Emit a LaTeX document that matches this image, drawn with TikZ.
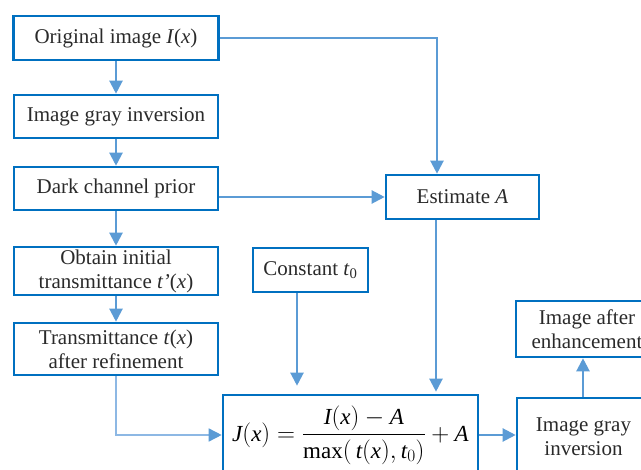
\documentclass[tikz,border=0pt]{standalone}
\usepackage{fontspec}
\usepackage{amsmath}
\setmainfont{Liberation Serif}
\usetikzlibrary{arrows.meta}
\definecolor{boxblue}{HTML}{0070C0}
\definecolor{arrblue}{HTML}{5B9BD5}
\definecolor{lightblue}{HTML}{8DB8E4}
\definecolor{txt}{HTML}{2A2A2A}
\begin{document}
\begin{tikzpicture}[x=1pt,y=-1pt,
  box/.style={draw=boxblue, line width=2.6pt, text=txt, align=center, inner sep=0pt,
    font=\fontsize{21}{24}\selectfont},
  arr/.style={draw=arrblue, line width=2.2pt, -{Triangle[length=13pt,width=13pt,color=arrblue]}},
  thinarr/.style={draw=lightblue, line width=1.5pt, -{Triangle[length=13pt,width=13pt,color=arrblue]}}]
\useasboundingbox (0,0) rectangle (641,470);
\clip (0,0) rectangle (641,470);
% left column
\node[box, minimum width=205pt, minimum height=44pt] (orig) at (116,38) {Original image \textit{I}(\textit{x})};
\node[box, minimum width=204pt, minimum height=43pt] (inv1) at (116,116.5) {Image gray inversion};
\node[box, minimum width=204pt, minimum height=43pt] (dark) at (116,188.5) {Dark channel prior};
\node[box, minimum width=204pt, minimum height=48pt] (obtain) at (116,271) {Obtain initial\\transmittance \textit{t’}(\textit{x})};
\node[box, minimum width=204pt, minimum height=52pt] (trans) at (116,349) {Transmittance \textit{t}(\textit{x})\\after refinement};
% middle / right
\node[box, minimum width=153pt, minimum height=44pt] (est) at (462.5,197) {Estimate \textit{A}};
\node[box, minimum width=115pt, minimum height=44pt] (const) at (310.5,270) {Constant \textit{t}\textsubscript{0}};
\node[box, text=black, font=\fontsize{23}{27}\selectfont, minimum width=255pt, minimum height=80pt] (form) at (350.5,435)
  {$\mathit{J}(\mathit{x})=\dfrac{\mathit{I}(\mathit{x})-\mathit{A}}{\max(\,\mathit{t}(\mathit{x}),\mathit{t}_0)}+\mathit{A}$};
\node[box, minimum width=133pt, minimum height=78pt] (inv2) at (583.5,437) {Image gray\\inversion};
\node[box, minimum width=142pt, minimum height=56pt] (enh) at (587,329) {Image after\\enhancement};
% connectors
\draw[arr] (orig.south) -- (inv1.north);
\draw[arr] (inv1.south) -- (dark.north);
\draw[arr] (dark.south) -- (obtain.north);
\draw[arr] (obtain.south) -- (trans.north);
\draw[arr] (orig.east) -| ([xshift=-25.5pt]est.north);
\draw[arr] (dark.east |- est.west) -- (est.west);
\draw[arr] ([xshift=-26.5pt]est.south) -- ([xshift=-26.5pt,yshift=2pt]est.south |- form.north);
\draw[arr] ([xshift=-13.5pt]const.south) -- ([xshift=-13.5pt,yshift=8pt]const.south |- form.north);
\draw[thinarr] (trans.south) |- (form.west);
\draw[arr] (form.east) -- (form.east -| inv2.west);
\draw[arr] ([xshift=-0.5pt]inv2.north) -- ([xshift=-0.5pt]inv2.north |- enh.south);
\end{tikzpicture}
\end{document}
